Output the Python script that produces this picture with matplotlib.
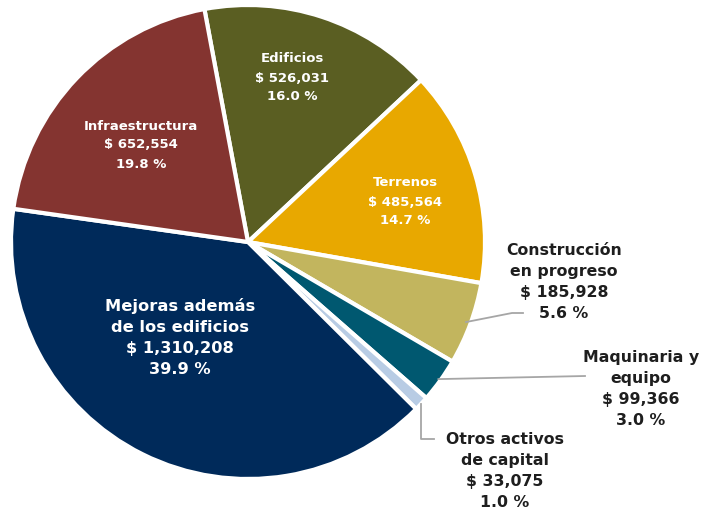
import matplotlib.pyplot as plt
import numpy as np

#data
categories = ['Edificios', 'Terrenos', 'Construcción\nen progreso', 'Maquinaria y\nequipo',
              'Otros activos\nde capital', 'Mejoras además\nde los edificios', 'Infraestructura']
values = [526031, 485564, 185928, 99366, 33075, 1310208, 652554]
pct_labels = ['16.0 %', '14.7 %', '5.6 %', '3.0 %', '1.0 %', '39.9 %', '19.8 %']
colors = ['#5A5E22', '#E8A800', '#C2B55E', '#005870', '#B8CCE4', '#002A5A', '#843430']

#layout in pixel units
fig = plt.figure(figsize=(7.13, 5.10), dpi=100)
ax = fig.add_axes([0, 0, 1, 1])

cx, cy, r = 248, 267, 237
wedges, _ = ax.pie(values, colors=colors, startangle=100.6, counterclock=False,
                   center=(cx, cy), radius=r, frame=True,
                   wedgeprops=dict(edgecolor='white', linewidth=3))
ax.set_xlim(0, 713)
ax.set_ylim(0, 510)
ax.set_aspect('equal')
ax.axis('off')

font = 'DejaVu Sans'
#label positions (pixel, from top) and style
label_pos = [(292, 78), (405, 202), (564, 282), (641, 389), (505, 471), (180, 338), (141, 145)]
inside = [True, True, False, False, False, True, True]
sizes = [9.5, 9.5, 11.3, 11.3, 11.3, 11.7, 9.5]
spacing = [1.6, 1.6, 1.5, 1.5, 1.5, 1.5, 1.6]

for i, cat in enumerate(categories):
    txt = f"{cat}\n$ {values[i]:,}\n{pct_labels[i]}"
    x, y = label_pos[i]
    ax.text(x, 510 - y, txt, ha='center', va='center', fontsize=sizes[i],
            fontweight='bold', family=font, linespacing=spacing[i],
            color='white' if inside[i] else '#1E1E1E')

#leader lines
def edge_point(w, frac=0.99):
    a = np.deg2rad((w.theta1 + w.theta2) / 2)
    return cx + frac * r * np.cos(a), cy + frac * r * np.sin(a)

lc = '#A6A6A6'
x0, y0 = edge_point(wedges[2], 0.98)
ax.plot([x0, 512, 523], [y0, 510 - 314, 510 - 314], color=lc, lw=1.3)
x0, y0 = edge_point(wedges[3], 0.99)
ax.plot([x0, 585], [y0, 510 - 377], color=lc, lw=1.3)
x0, y0 = edge_point(wedges[4], 1.0)
ax.plot([x0, x0, 434], [y0, 510 - 440, 510 - 440], color=lc, lw=1.3)

fig.savefig('out.png', dpi=100)
